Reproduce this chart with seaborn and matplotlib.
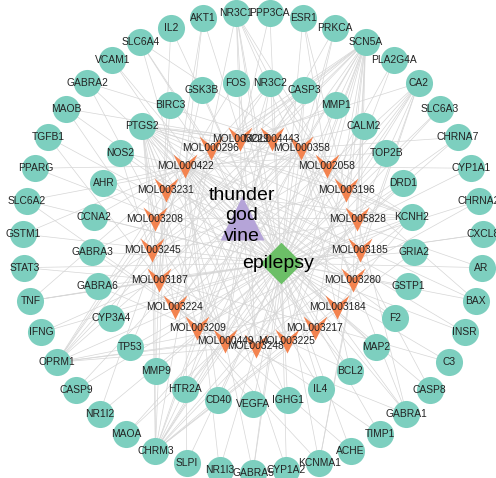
import numpy as np
import pandas as pd
import matplotlib
matplotlib.use("Agg")
import matplotlib.pyplot as plt
from matplotlib.path import Path
from matplotlib.collections import LineCollection
import seaborn as sns

sns.set_theme(style="white")
plt.rcParams["font.family"] = ["Liberation Sans", "DejaVu Sans"]

# ---- network content -------------------------------------------------------
herb = "thunder\ngod\nvine"
disease = "epilepsy"

# targets on the outer ring, clockwise from the top
outer_targets = [
    "NR3C1", "PPP3CA", "ESR1", "PRKCA", "SCN5A", "PLA2G4A", "CA2", "SLC6A3",
    "CHRNA7", "CYP1A1", "CHRNA2", "CXCL8", "AR", "BAX", "INSR", "C3", "CASP8",
    "GABRA1", "TIMP1", "ACHE", "KCNMA1", "CYP1A2", "GABRA5", "NR1I3", "SLPI",
    "CHRM3", "MAOA", "NR1I2", "CASP9", "OPRM1", "IFNG", "TNF", "STAT3", "GSTM1",
    "SLC6A2", "PPARG", "TGFB1", "MAOB", "GABRA2", "VCAM1", "SLC6A4", "IL2", "AKT1",
]

# targets on the inner ring, clockwise
inner_targets = [
    "GSK3B", "FOS", "NR3C2", "CASP3", "MMP1", "CALM2", "TOP2B", "DRD1", "KCNH2",
    "GRIA2", "GSTP1", "F2", "MAP2", "BCL2", "IL4", "IGHG1", "VEGFA", "CD40",
    "HTR2A", "MMP9", "TP53", "CYP3A4", "GABRA6", "GABRA3", "CCNA2", "AHR",
    "NOS2", "PTGS2", "BIRC3",
]

# active compounds, clockwise
compounds = [
    "MOL003229", "MOL004443", "MOL000358", "MOL002058", "MOL003196", "MOL005828",
    "MOL003185", "MOL003280", "MOL003184", "MOL003217", "MOL003225", "MOL003248",
    "MOL000449", "MOL003209", "MOL003224", "MOL003187", "MOL003245", "MOL003208",
    "MOL003231", "MOL000422", "MOL000296",
]

# compound -> target links
compound_targets = {
    "MOL000296": ["PTGS2", "SCN5A", "CHRM3", "KCNH2", "GABRA1", "SLC6A4", "OPRM1", "NR3C2"],
    "MOL000358": ["PTGS2", "CHRM3", "SLC6A2", "SLC6A4", "OPRM1", "GABRA1", "GABRA2",
                  "GABRA3", "GABRA5", "GABRA6", "CHRNA7", "PRKCA", "BCL2", "BAX",
                  "CASP3", "CASP8", "CASP9", "SCN5A", "KCNH2", "MAOB"],
    "MOL000422": ["PTGS2", "NOS2", "AHR", "CYP1A1", "CYP1A2", "CYP3A4", "PPARG", "AKT1",
                  "CASP3", "BCL2", "BAX", "TNF", "IL4", "VCAM1", "MMP1", "F2", "GSK3B",
                  "NR1I2", "NR1I3", "CALM2", "TOP2B", "GSTP1", "GSTM1", "SLPI", "IGHG1",
                  "CD40", "AR", "INSR", "FOS", "CCNA2", "MAP2"],
    "MOL000449": ["PTGS2", "NR3C2", "SCN5A", "CHRM3", "GABRA1", "GABRA2", "GABRA3",
                  "GABRA5", "GABRA6", "MAOA", "MAOB", "SLC6A2", "SLC6A3", "SLC6A4",
                  "OPRM1", "CHRNA7", "CHRNA2", "DRD1", "HTR2A", "ACHE"],
    "MOL002058": ["PTGS2", "CHRM3", "SCN5A", "ESR1"],
    "MOL003184": ["PTGS2", "CHRM3", "SCN5A", "KCNH2", "OPRM1"],
    "MOL003185": ["PTGS2", "CA2", "SCN5A", "KCNMA1", "NR3C1", "TNF"],
    "MOL003187": ["PTGS2", "CASP3", "TNF", "NOS2", "VEGFA", "STAT3", "TP53", "MMP9",
                  "AKT1", "BCL2", "IL2", "IFNG", "CXCL8", "C3", "TIMP1", "TGFB1", "BIRC3"],
    "MOL003196": ["PTGS2", "NR3C1", "NR3C2", "SCN5A", "KCNH2", "ESR1", "CA2"],
    "MOL003208": ["PTGS2", "CHRM3", "SCN5A", "OPRM1"],
    "MOL003209": ["PTGS2", "SCN5A", "NR3C2", "CA2", "CHRM3", "KCNH2"],
    "MOL003217": ["PTGS2", "SCN5A", "CHRM3", "GRIA2", "OPRM1"],
    "MOL003224": ["PTGS2", "SCN5A", "CA2", "NR3C1", "KCNMA1"],
    "MOL003225": ["PTGS2", "NR3C1", "SCN5A", "CHRM3", "PLA2G4A"],
    "MOL003229": ["PTGS2", "SCN5A", "CA2", "KCNH2", "NR3C1", "PPP3CA"],
    "MOL003231": ["PTGS2", "SCN5A", "CHRM3", "OPRM1", "KCNH2"],
    "MOL003245": ["PTGS2", "SCN5A", "NR3C2", "CHRM3", "KCNH2", "OPRM1"],
    "MOL003248": ["PTGS2", "SCN5A", "CHRM3", "KCNH2", "OPRM1", "NR3C1", "CA2"],
    "MOL003280": ["PTGS2", "NR3C1", "SCN5A", "CA2", "KCNMA1"],
    "MOL004443": ["PTGS2", "SCN5A", "CHRM3", "OPRM1", "PRKCA", "HTR2A"],
    "MOL005828": ["PTGS2", "SCN5A", "KCNH2", "CHRM3", "GABRA1", "CA2"],
}

# ---- layout (pixel space, y pointing down) ---------------------------------
W, H = 496, 478


def ring(names, cx, cy, r):
    """Place names evenly on a circle, clockwise, straddling the top."""
    n = len(names)
    theta = np.deg2rad((np.arange(n) - 0.5) * 360.0 / n)
    return pd.DataFrame({"name": names,
                         "x": cx + r * np.sin(theta),
                         "y": cy - r * np.cos(theta)})


outer_df = ring(outer_targets, 253, 242.5, 230)
inner_df = ring(np.roll(inner_targets, -1).tolist(), 253, 243, 161)
comp_df = ring(compounds, 256, 242, 104)
hub_df = pd.DataFrame({"name": [herb, disease], "x": [242, 281], "y": [218, 263]})

target_df = pd.concat([outer_df, inner_df], ignore_index=True)
pos = {r.name: (r.x, r.y) for r in pd.concat([target_df, comp_df, hub_df]).itertuples()}

segments = []
for c in compounds:
    segments.append([pos[herb], pos[c]])
    for t in compound_targets[c]:
        segments.append([pos[c], pos[t]])
for t in target_df["name"]:
    segments.append([pos[disease], pos[t]])

# ---- marker shapes ---------------------------------------------------------
v_shape = Path([(-1, 1), (0, 0.2), (1, 1), (0, -1), (-1, 1)],
               [Path.MOVETO, Path.LINETO, Path.LINETO, Path.LINETO, Path.CLOSEPOLY])
tri_shape = Path([(-1, -1), (1, -1), (0, 1), (-1, -1)],
                 [Path.MOVETO, Path.LINETO, Path.LINETO, Path.CLOSEPOLY])
dia_shape = Path([(0, 1), (1, 0), (0, -1), (-1, 0), (0, 1)],
                 [Path.MOVETO, Path.LINETO, Path.LINETO, Path.LINETO, Path.CLOSEPOLY])

TEAL = "#7dcfbf"
ORANGE = "#f3834f"
PURPLE = "#b5a4d8"
GREEN = "#6cbf67"
EDGE = "#d6d6d6"
TEXT = "#222222"

# ---- drawing ---------------------------------------------------------------
fig = plt.figure(figsize=(W / 100, H / 100), dpi=100)
ax = fig.add_axes([0, 0, 1, 1])
ax.set_xlim(0, W)
ax.set_ylim(H, 0)
ax.axis("off")

ax.add_collection(LineCollection(segments, colors=EDGE, linewidths=0.5, zorder=1))

sns.scatterplot(data=target_df, x="x", y="y", ax=ax, color=TEAL, s=380,
                marker="o", linewidth=0, zorder=2, legend=False)
sns.scatterplot(data=comp_df, x="x", y="y", ax=ax, color=ORANGE, s=300,
                marker=v_shape, linewidth=0, zorder=2, legend=False)
sns.scatterplot(data=hub_df.iloc[[0]], x="x", y="y", ax=ax, color=PURPLE, s=1000,
                marker=tri_shape, linewidth=0, zorder=2, legend=False)
sns.scatterplot(data=hub_df.iloc[[1]], x="x", y="y", ax=ax, color=GREEN, s=900,
                marker=dia_shape, linewidth=0, zorder=2, legend=False)

for df in (target_df, comp_df):
    for r in df.itertuples():
        ax.text(r.x, r.y, r.name, ha="center", va="center", fontsize=7.4,
                color=TEXT, zorder=3)

ax.text(pos[herb][0], pos[herb][1] - 2, herb, ha="center", va="center",
        fontsize=14, color="black", linespacing=1.25, zorder=3)
ax.text(pos[disease][0] - 3, pos[disease][1], disease, ha="center", va="center",
        fontsize=14, color="black", zorder=3)

fig.savefig("out.png", dpi=100)
